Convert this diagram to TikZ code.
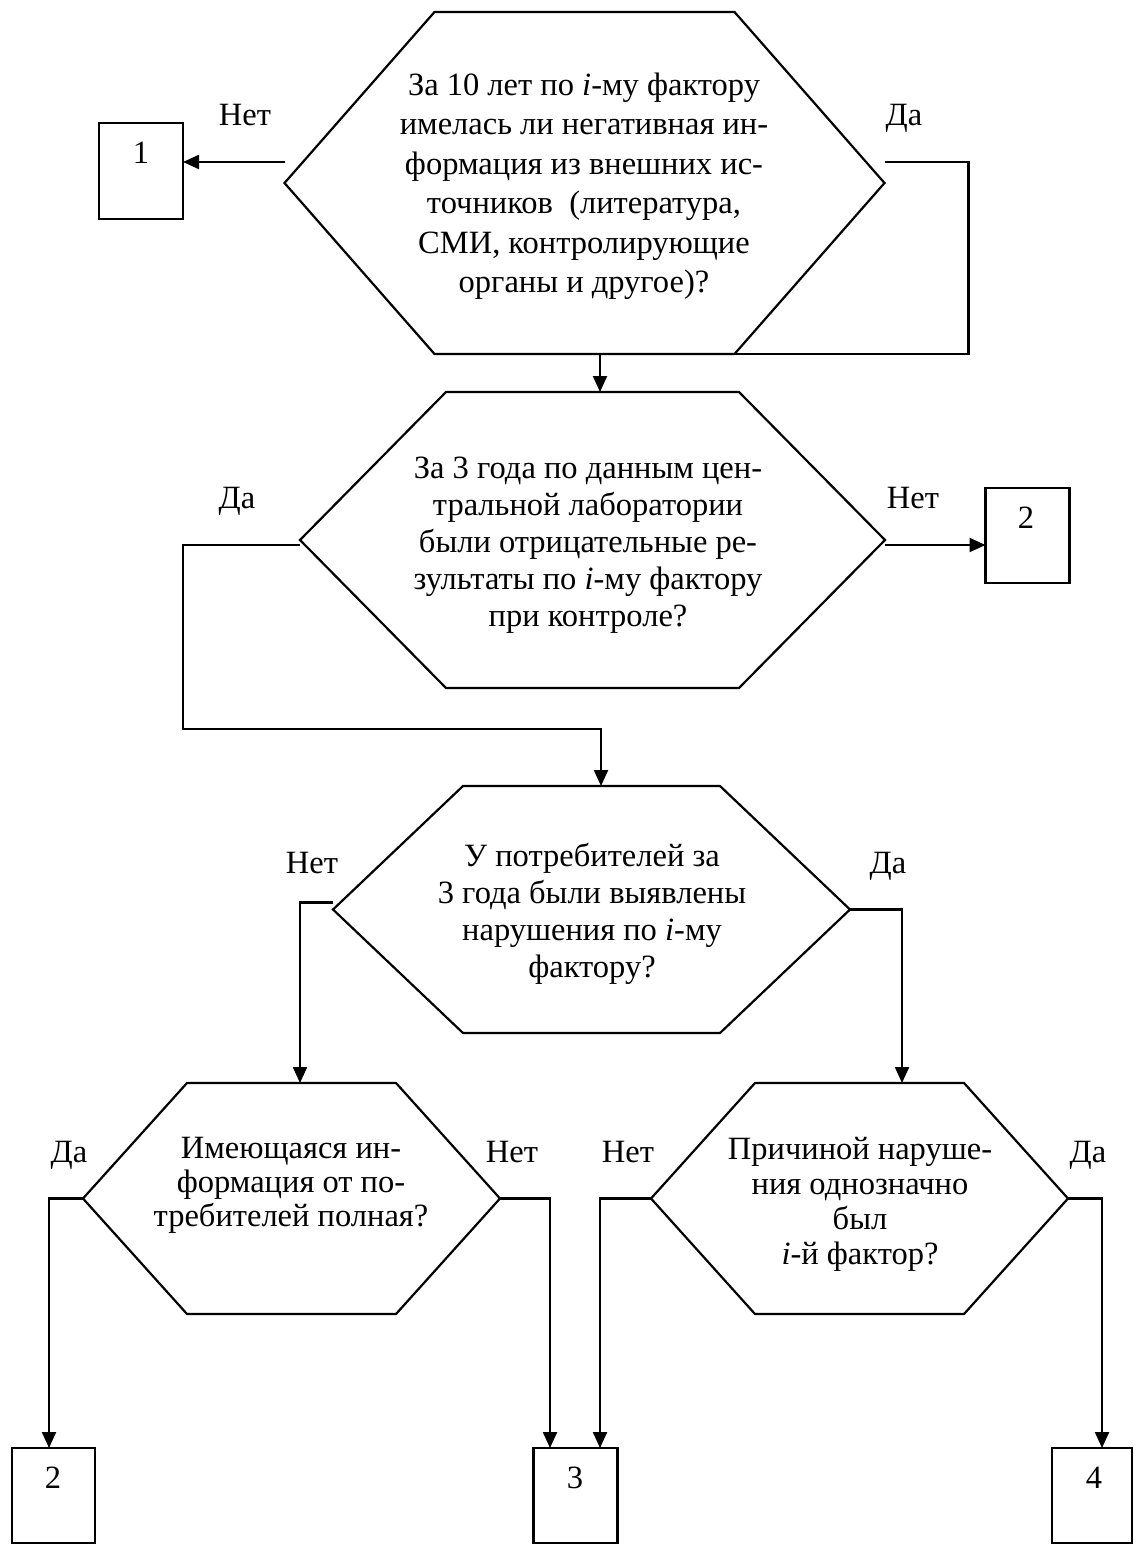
\documentclass[tikz,border=0pt]{standalone}
\usepackage{fontspec}
\setmainfont{Liberation Serif}
\usetikzlibrary{arrows.meta,calc}

\tikzset{
  shapeholder/.style={rectangle, draw=none, inner sep=0pt, outer sep=0pt},
  outline/.style={line width=2.2pt, line join=miter},
  boxnode/.style={rectangle, draw, line width=2.2pt, inner sep=0pt, outer sep=0pt,
                  minimum width=84pt, minimum height=95pt},
  qtext/.style={align=center, inner sep=0pt, font=\fontsize{32.5}{37}\selectfont},
  answer/.style={anchor=base, inner sep=0pt, font=\fontsize{32.5}{37}\selectfont},
  flow/.style={line width=2.2pt, -{Triangle[length=16pt,width=14pt]}},
}

% hexagon outline drawn through the anchors of a placeholder node
% #1 = node name, #2 = horizontal inset of the top and bottom edges
\newcommand\hexoutline[2]{%
  \draw[outline] ($(#1.north west)+(#2,0)$) -- ($(#1.north east)+(-#2,0)$)
    -- (#1.east) -- ($(#1.south east)+(-#2,0)$)
    -- ($(#1.south west)+(#2,0)$) -- (#1.west) -- cycle;}

\begin{document}
\begin{tikzpicture}[x=1pt,y=-1pt]
\useasboundingbox[fill=white] (0,0) rectangle (1133,1544);

% ---- decision blocks ----
\node[shapeholder, minimum width=600pt, minimum height=342pt] (h1) at (584.5,183) {};
\node[shapeholder, minimum width=585pt, minimum height=296pt] (h2) at (592.5,540) {};
\node[shapeholder, minimum width=517pt, minimum height=247pt] (h3) at (591.5,909.5) {};
\node[shapeholder, minimum width=417pt, minimum height=231pt] (h4) at (291.5,1198.5) {};
\node[shapeholder, minimum width=417pt, minimum height=231pt] (h5) at (859.5,1198.5) {};
\hexoutline{h1}{150}
\hexoutline{h2}{146}
\hexoutline{h3}{130}
\hexoutline{h4}{104}
\hexoutline{h5}{104}

\node[qtext, font=\fontsize{32.5}{39.5}\selectfont] (t1) at (584,186)
  {За 10 лет по \textit{i}-му фактору\\имелась ли негативная ин-\\формация из внешних ис-\\точников\ \ (литература,\\СМИ, контролирующие\\органы и другое)?};
\node[qtext] (t2) at (588,545)
  {За 3 года по данным цен-\\тральной лаборатории\\были отрицательные ре-\\зультаты по \textit{i}-му фактору\\при контроле?};
\node[qtext] (t3) at (592,914)
  {У потребителей за\\3 года были выявлены\\нарушения по \textit{i}-му\\фактору?};
\node[qtext, font=\fontsize{32.5}{34}\selectfont] (t4) at (291,1185)
  {Имеющаяся ин-\\формация от по-\\требителей полная?};
\node[qtext, font=\fontsize{32.5}{35}\selectfont] (t5) at (860,1204)
  {Причиной наруше-\\ния однозначно\\был\\\textit{i}-й фактор?};

% ---- outcome boxes ----
\node[boxnode, minimum height=96pt] (b1) at (141,171) {};
\node[boxnode] (b2) at (1027.5,535.5) {};
\node[boxnode, minimum width=83pt] (b3) at (53.5,1495.5) {};
\node[boxnode] (b4) at (575.5,1495.5) {};
\node[boxnode, minimum width=80pt] (b5) at (1092,1495.5) {};

\node[answer] (d1) at (141,164) {1};
\node[answer] (d2) at (1026,528) {2};
\node[answer] (d3) at (53,1488) {2};
\node[answer] (d4) at (575,1488) {3};
\node[answer] (d5) at (1094,1488) {4};

% ---- branch labels ----
\node[answer] (l1n) at (245,125) {Нет};
\node[answer] (l1y) at (904,125) {Да};
\node[answer] (l2y) at (237,508) {Да};
\node[answer] (l2n) at (913,508) {Нет};
\node[answer] (l3n) at (312,873) {Нет};
\node[answer] (l3y) at (888,873) {Да};
\node[answer] (l4y) at (69,1162) {Да};
\node[answer] (l4n) at (512,1162) {Нет};
\node[answer] (l5n) at (628,1162) {Нет};
\node[answer] (l5y) at (1088,1162) {Да};

% ---- connectors ----
\coordinate (h1n) at ($(h1.west)+(0,-21)$);
\coordinate (h1y) at ($(h1.east)+(0,-21)$);
\coordinate (m1) at (600,354);
\draw[flow] (h1n) -- (h1n -| b1.east);
\draw[flow] (h1y) -- ++(84,0) |- (m1) -- (m1 |- h2.north);

\coordinate (h2y) at ($(h2.west)+(0,5)$);
\coordinate (h2n) at ($(h2.east)+(0,5)$);
\coordinate (m2) at (601,729);
\draw[flow] (h2y) -- ++(-117,0) |- (m2) -- (m2 |- h3.north);
\draw[flow] (h2n) -- (h2n -| b2.west);

\coordinate (h3n) at ($(h3.west)+(0,-7)$);
\draw[flow] (h3n) -- ++(-33,0) coordinate (c3) -- (c3 |- h4.north);
\draw[flow] (h3.east) -- ++(52,0) coordinate (c4) -- (c4 |- h5.north);

\draw[flow] (h4.west) -- ++(-34,0) coordinate (c5) -- (c5 |- b3.north);
\draw[flow] (h4.east) -- ++(50,0) coordinate (c6) -- (c6 |- b4.north);
\draw[flow] (h5.west) -- ++(-51,0) coordinate (c7) -- (c7 |- b4.north);
\draw[flow] (h5.east) -- ++(34,0) coordinate (c8) -- (c8 |- b5.north);
\end{tikzpicture}
\end{document}
